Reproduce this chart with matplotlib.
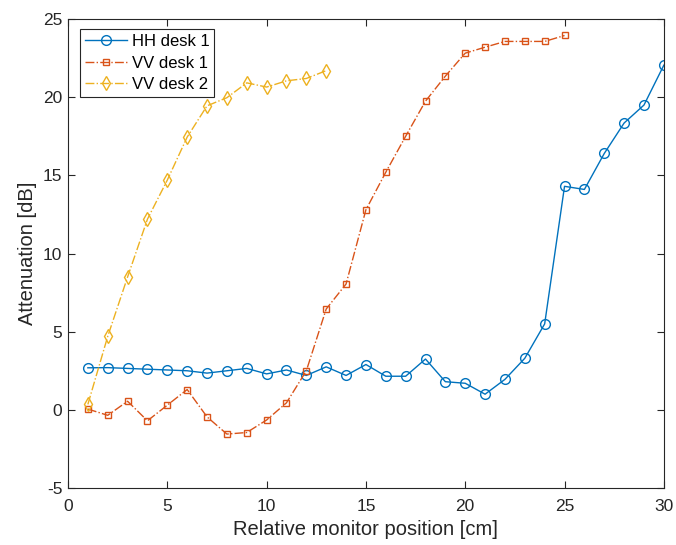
import matplotlib
matplotlib.use("Agg")
import matplotlib.pyplot as plt

plt.rcParams['font.family'] = ['Liberation Sans', 'DejaVu Sans']
plt.rcParams['axes.unicode_minus'] = False

# HH desk 1, positions 1..30
hh_x = list(range(1, 31))
hh_y = [2.69, 2.7, 2.65, 2.6, 2.55, 2.5, 2.35, 2.5, 2.65, 2.3,
        2.55, 2.2, 2.75, 2.2, 2.9, 2.15, 2.15, 3.25, 1.8, 1.7,
        1.0, 1.95, 3.3, 5.5, 14.3, 14.1, 16.4, 18.35, 19.5, 22.05]

# VV desk 1, positions 1..25
vv1_x = list(range(1, 26))
vv1_y = [0.05, -0.35, 0.55, -0.7, 0.3, 1.3, -0.45, -1.55, -1.45, -0.65,
         0.45, 2.5, 6.45, 8.05, 12.8, 15.2, 17.5, 19.75, 21.35, 22.82,
         23.2, 23.57, 23.57, 23.57, 23.95]

# VV desk 2, positions 1..13
vv2_x = list(range(1, 14))
vv2_y = [0.35, 4.7, 8.5, 12.2, 14.7, 17.45, 19.45, 19.97, 20.92, 20.65,
         21.05, 21.2, 21.7]

fig = plt.figure(figsize=(6.76, 5.45), dpi=100)
ax = fig.add_axes([0.1006, 0.1046, 0.8814, 0.8604])

ax.plot(hh_x, hh_y, '-', color='#0072BD', marker='o', markersize=7,
        markerfacecolor='none', lw=1.0, label='HH desk 1')
ax.plot(vv1_x, vv1_y, '-.', color='#D95319', marker='s', markersize=4.5,
        markerfacecolor='none', lw=1.0, label='VV desk 1')
ax.plot(vv2_x, vv2_y, '-.', color='#EDB120', marker='d', markersize=7.5,
        markerfacecolor='none', lw=1.0, label='VV desk 2')

ax.set_xlim(0, 30)
ax.set_ylim(-5, 25)
ax.set_xticks(range(0, 31, 5))
ax.set_yticks(range(-5, 26, 5))
ax.tick_params(direction='in', top=True, right=True, labelsize=12.5,
               length=5, width=0.8, colors='#262626')
ax.tick_params(axis='x', pad=8)
ax.tick_params(axis='y', pad=4)
for s in ax.spines.values():
    s.set_color('#262626')
    s.set_linewidth(0.8)

ax.set_xlabel('Relative monitor position [cm]', fontsize=14.5, color='#262626', labelpad=4)
ax.set_ylabel('Attenuation [dB]', fontsize=14.5, color='#262626', labelpad=4)

leg = ax.legend(loc='upper left', bbox_to_anchor=(0.02, 0.979), borderaxespad=0,
                fontsize=12, fancybox=False, framealpha=1, edgecolor='#262626',
                handlelength=2.5, borderpad=0.3, labelspacing=0.4,
                handletextpad=0.3)
leg.get_frame().set_linewidth(0.8)

fig.savefig('out.png', dpi=100)
